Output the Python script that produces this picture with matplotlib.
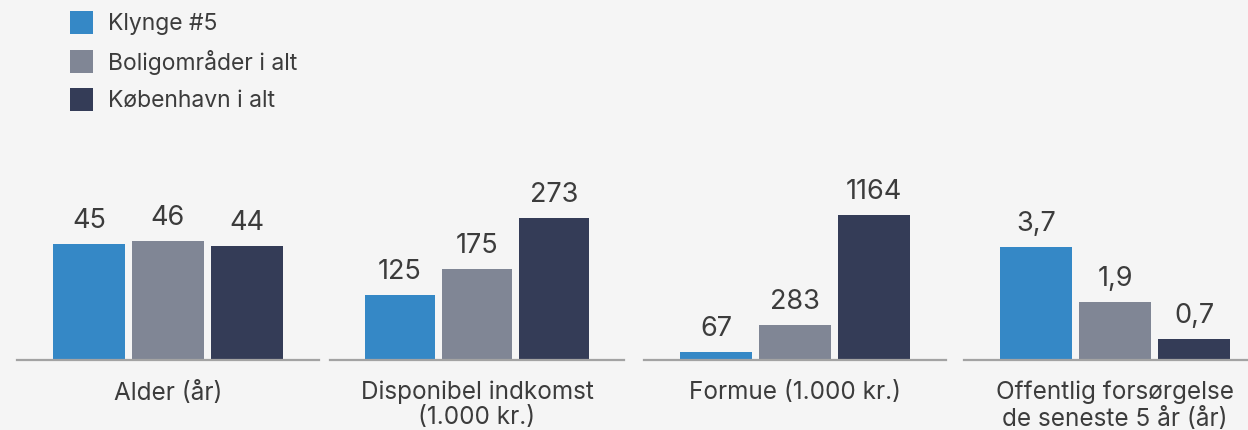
import matplotlib
matplotlib.use("Agg")
import matplotlib.pyplot as plt
from matplotlib.patches import Rectangle

# Data
series = ["Klynge #5", "Boligområder i alt", "København i alt"]
categories = ["Alder (år)", "Disponibel indkomst\n(1.000 kr.)",
              "Formue (1.000 kr.)", "Offentlig forsørgelse\nde seneste 5 år (år)"]
alder = [45, 46, 44]
indkomst = [125, 175, 273]
formue = [67, 283, 1164]
forsorgelse = [3.7, 1.9, 0.7]
panel_values = [alder, indkomst, formue, forsorgelse]
decimals = [0, 0, 0, 1]

colors = ["#3588C6", "#808695", "#343C57"]
bg = "#F5F5F5"
text_color = "#3C3C3C"
font = ["Inter", "DejaVu Sans"]
plt.rcParams["font.family"] = font

W, H = 1248, 430
fig = plt.figure(figsize=(W / 100, H / 100), dpi=100, facecolor=bg)

# panel layout in pixels: (left, width); shared baseline and height
panels_px = [(17, 302), (330, 294), (644, 302), (964, 302)]
baseline_px = 360
height_px = 190
ymax = [73.4, 365, 1526, 6.21]

for i, (vals, cat) in enumerate(zip(panel_values, categories)):
    left, width = panels_px[i]
    ax = fig.add_axes([left / W, (H - baseline_px) / H, width / W, height_px / H])
    ax.set_facecolor(bg)
    x = list(range(len(vals)))
    ax.bar(x, vals, width=0.92, color=colors)
    ax.set_xlim(-0.91, 2.91)
    ax.set_ylim(0, ymax[i])
    for s in ["top", "left", "right"]:
        ax.spines[s].set_visible(False)
    ax.spines["bottom"].set_color("#A3A3A3")
    ax.spines["bottom"].set_linewidth(1.6)
    ax.set_yticks([])
    ax.set_xticks([1])
    ax.set_xticklabels([cat], fontsize=17.5, color=text_color, linespacing=1.12)
    ax.tick_params(axis="x", length=0, pad=15)
    for xi, v in zip(x, vals):
        lbl = f"{v:.{decimals[i]}f}".replace(".", ",")
        ax.annotate(lbl, (xi, v), xytext=(0, 11.5), textcoords="offset points",
                    ha="center", va="baseline", fontsize=19.5, color=text_color)

# legend
for j, (name, c) in enumerate(zip(series, colors)):
    top = 11 + j * 38.5
    fig.add_artist(Rectangle((70 / W, (H - top - 23) / H), 23 / W, 23 / H,
                             transform=fig.transFigure, color=c, lw=0))
    fig.text(108 / W, (H - top - 13) / H, name, fontsize=16.5,
             color=text_color, va="center", ha="left")

fig.savefig("out.png", dpi=100, facecolor=bg)
